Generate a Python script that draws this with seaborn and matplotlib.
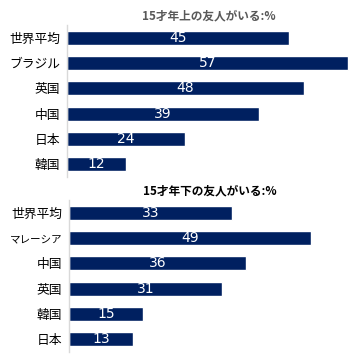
import matplotlib
matplotlib.use("Agg")
import matplotlib.pyplot as plt
import seaborn as sns
import pandas as pd

# ---- data ----
older_labels = ["世界平均", "ブラジル", "英国", "中国", "日本", "韓国"]
older_values = [45, 57, 48, 39, 24, 12]
younger_labels = ["世界平均", "マレーシア", "中国", "英国", "韓国", "日本"]
younger_values = [33, 49, 36, 31, 15, 13]

BAR = "#002060"

sns.set_theme(style="white")
plt.rcParams["font.family"] = ["Noto Sans CJK JP", "DejaVu Sans"]

fig = plt.figure(figsize=(3.54, 3.54), dpi=100)
W = H = 354.0


def panel(rect_px, labels, values, title, title_color):
    x0, y0, x1, y1 = rect_px
    ax = fig.add_axes([x0 / W, 1 - y1 / H, (x1 - x0) / W, (y1 - y0) / H])
    df = pd.DataFrame({"label": labels, "value": values})
    sns.barplot(data=df, x="value", y="label", ax=ax, color=BAR,
                saturation=1, width=0.56, orient="h")
    ax.set_xlim(0, (x1 - x0) / 4.93)
    ax.set_xlabel("")
    ax.set_ylabel("")
    ax.set_xticks([])
    ax.tick_params(axis="y", length=0, pad=5, labelsize=9.2, labelcolor="black")
    # the katakana label is drawn condensed in the original
    for t in ax.get_yticklabels():
        if t.get_text() == "マレーシア":
            t.set_fontsize(7.6)
    for s in ["top", "right", "bottom"]:
        ax.spines[s].set_visible(False)
    ax.spines["left"].set_color("#d9d9d9")
    ax.spines["left"].set_linewidth(1)
    for i, v in enumerate(values):
        ax.text(v / 2, i, str(v), ha="center", va="center", color="white",
                fontsize=10, family=["DejaVu Sans"])
    ax.set_title(title, fontsize=8.4, fontweight="bold", color=title_color, pad=4)
    return ax


panel((67, 25, 350, 177), older_labels, older_values, "15才年上の友人がいる:%", "#595959")
panel((69, 200, 350, 352), younger_labels, younger_values, "15才年下の友人がいる:%", "black")

fig.savefig("out.png", dpi=100)
